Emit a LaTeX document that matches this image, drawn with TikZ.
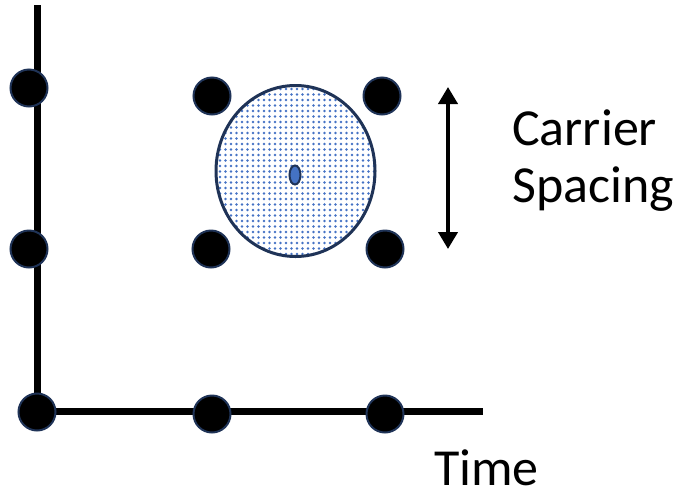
\documentclass[tikz,border=0pt]{standalone}
\usepackage{fontspec}
\setmainfont{Carlito}
\usetikzlibrary{arrows.meta,patterns.meta,shapes.geometric}
\definecolor{navy}{HTML}{1F3357}
\definecolor{dotblue}{HTML}{4472C4}
\tikzset{
  dotnode/.style={circle, fill=black, draw=navy, line width=2pt, minimum size=37pt, inner sep=0pt},
  axisline/.style={line width=7pt, line join=miter},
  label/.style={font=\fontsize{52}{58}\selectfont, inner sep=0pt, anchor=base west},
  spacingarrow/.style={line width=4pt, {Triangle[length=17pt,width=19pt]}-{Triangle[length=17pt,width=19pt]}}
}
\begin{document}
\begin{tikzpicture}[x=1pt,y=-1pt]
\useasboundingbox (0,0) rectangle (682,496);
% axes
\coordinate (vtop) at (37,5);
\coordinate (origin) at (37,411);
\coordinate (hend) at (483,411);
\draw[axisline] (vtop) -- (origin) -- (hend);
% axis dots
\node[dotnode] (v1) at (29,88) {};
\node[dotnode] (v2) at (29,249) {};
\node[dotnode] (h0) at (37,412) {};
\node[dotnode] (h1) at (212,414) {};
\node[dotnode] (h2) at (385,414) {};
% big circle
\node[ellipse, draw=navy, line width=3pt, minimum width=159pt, minimum height=171pt, inner sep=0pt,
      pattern={Dots[distance=5.5pt,radius=1.4pt]}, pattern color=dotblue] (big) at (295.5,171) {};
\node[ellipse, draw=navy, line width=2pt, fill=dotblue, minimum width=11pt, minimum height=19pt, inner sep=0pt] (small) at (295,175) {};
% surrounding dots
\node[dotnode] (tl) at (212,96) {};
\node[dotnode] (tr) at (382,96) {};
\node[dotnode] (bl) at (211,249) {};
\node[dotnode] (br) at (385,249) {};
% arrow
\coordinate (atop) at (448,87);
\coordinate (abot) at (448,249);
\draw[spacingarrow] (atop) -- (abot);
% labels
\node[label] (carrier) at (512,145) {Carrier};
\node[label] (spacing) at (512,202) {Spacing};
\node[label] (time) at (434,485) {Time};
\end{tikzpicture}
\end{document}
